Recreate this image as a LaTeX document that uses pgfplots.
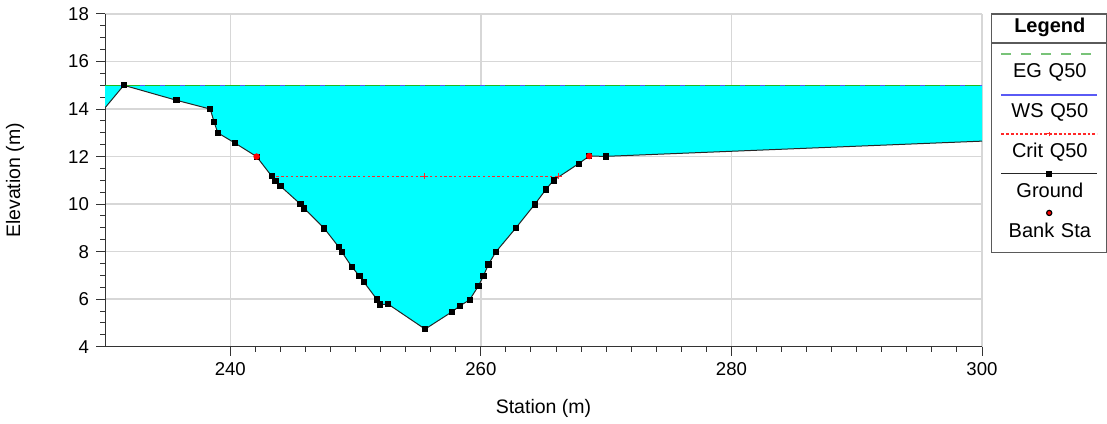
\documentclass[border=0pt]{standalone}
\usepackage{pgfplots}
\pgfplotsset{compat=1.18}
\usepackage{pgfplotstable}
\usepgfplotslibrary{fillbetween}
\usepackage{fontspec}
\setmainfont{Liberation Sans}

\definecolor{egcol}{RGB}{30,185,30}
\definecolor{eglegcol}{RGB}{120,195,120}
\definecolor{wscol}{RGB}{90,90,245}
\definecolor{gridcol}{RGB}{215,215,215}
\definecolor{watercol}{RGB}{0,255,255}
\definecolor{framecol}{RGB}{90,90,90}
\definecolor{critcol}{RGB}{255,40,40}

% Ground profile of the cross section: station (m), elevation (m)
\pgfplotstableread{
sta elev
230.0 14.05
231.5 15.00
235.7 14.37
238.4 14.00
238.7 13.47
239.0 13.00
240.4 12.56
242.1 12.00
243.3 11.18
243.6 10.97
244.0 10.76
245.6 10.00
245.9 9.82
247.5 8.98
248.65 8.20
248.9 7.99
249.7 7.36
250.3 6.98
250.65 6.73
251.7 5.99
251.95 5.78
252.6 5.79
255.55 4.74
257.7 5.47
258.3 5.71
259.1 5.97
259.8 6.55
260.2 6.97
260.6 7.46
261.2 7.99
262.8 9.00
264.3 9.99
265.2 10.62
265.8 11.00
267.8 11.70
268.65 12.02
270.0 12.01
300.0 12.65
}\groundtbl

% Water surface, Q50
\pgfplotstableread{
sta elev
230 15.0
300 15.0
}\wstbl

% Energy grade line, Q50
\pgfplotstableread{
sta elev
230 15.0
300 15.0
}\egtbl

% Critical depth water surface, Q50
\pgfplotstableread{
sta elev
243.3 11.18
255.5 11.18
266.2 11.18
}\crittbl

% Bank stations
\pgfplotstableread{
sta elev
242.1 12.00
268.65 12.02
}\banktbl

\begin{document}
\begin{tikzpicture}
\begin{axis}[
  set layers,
  scale only axis,
  width=438.5pt, height=166.35pt,
  xmin=230, xmax=300, ymin=4, ymax=18,
  xtick={240,260,280,300},
  ytick={4,6,...,18},
  minor x tick num=9,
  minor y tick num=3,
  axis x line*=bottom, axis y line*=left,
  axis line style={black!80, line width=0.5pt, -},
  tick align=outside,
  major tick length=4.5pt, minor tick length=2.5pt,
  tick style={black!80, line width=0.5pt},
  grid=major,
  major grid style={gridcol, line width=0.7pt},
  font=\fontsize{9.75}{11}\selectfont,
  ticklabel style={font=\fontsize{9.3}{11}\selectfont},
  /pgf/number format/assume math mode=true,
  xlabel={Station (m)}, ylabel={Elevation (m)},
  x label style={at={(axis description cs:0.5,-0.1843)}, anchor=center},
  y label style={at={(axis description cs:-0.1026,0.5)}, anchor=center},
  legend style={
    at={(axis description cs:1.0103,1.002)}, anchor=north west,
    draw=framecol, line width=0.6pt, fill=white,
    inner xsep=0pt, inner ysep=0pt,
    column sep=0pt, row sep=0pt,
    cells={anchor=base},
    nodes={inner sep=0pt, text width=57pt, align=center,
           text height=15pt, text depth=5pt, anchor=base,
           font=\fontsize{10}{12}\selectfont},
  },
]

% legend: title with a rule below it, then one sample above each name
\addlegendimage{legend image code/.code={
  \path (0pt,0pt);
  \draw[overlay, draw=framecol, line width=0.6pt] (0pt,-5.15pt) -- (57pt,-5.15pt);}}
\addlegendentry[text height=9.35pt, text depth=7.5pt]{\bfseries Legend}

\addlegendimage{legend image code/.code={
  \path (0pt,0pt);
  \draw[overlay, draw=eglegcol, line width=0.7pt, dash pattern=on 5pt off 5pt]
    (4.5pt,11.85pt) -- (52.5pt,11.85pt);}}
\addlegendentry{EG Q50}

\addlegendimage{legend image code/.code={
  \path (0pt,0pt);
  \draw[overlay, draw=wscol, line width=0.7pt] (4.5pt,11.35pt) -- (52.5pt,11.35pt);}}
\addlegendentry{WS Q50}

\addlegendimage{legend image code/.code={
  \path (0pt,0pt);
  \draw[overlay, draw=critcol, line width=0.6pt, dash pattern=on 1.4pt off 1pt]
    (4.5pt,11.85pt) -- (52.5pt,11.85pt);
  \draw[overlay, draw=critcol, line width=0.55pt]
    (27.3pt,11.85pt) -- (29.7pt,11.85pt) (28.5pt,10.65pt) -- (28.5pt,13.05pt);}}
\addlegendentry{Crit Q50}

\addlegendimage{legend image code/.code={
  \path (0pt,0pt);
  \draw[overlay, draw=black!85, line width=0.55pt] (4.5pt,11.85pt) -- (52.5pt,11.85pt);
  \fill[overlay, fill=black] (27.3pt,10.65pt) rectangle (29.7pt,13.05pt);}}
\addlegendentry{Ground}

\addlegendimage{legend image code/.code={
  \path (0pt,0pt);
  \fill[overlay, fill=red] (28.5pt,12.35pt) circle[radius=1.3pt];}}
\addlegendentry[text depth=7.35pt]{Bank Sta}

% channel geometry and computed profiles
\addplot[name path=ground, draw=black!85, line width=0.5pt, forget plot]
  table[x=sta, y=elev] {\groundtbl};
\addplot[name path=ws, draw=wscol, line width=0.6pt, forget plot]
  table[x=sta, y=elev] {\wstbl};
\addplot[fill=watercol, draw=none, forget plot] fill between[of=ws and ground];
\addplot[draw=egcol, line width=0.75pt, dash pattern=on 7.5pt off 2.5pt, forget plot]
  table[x=sta, y=elev] {\egtbl};
\addplot[draw=critcol, line width=0.5pt, dash pattern=on 1.2pt off 1.2pt,
         mark=+, mark size=1.5pt, mark options={solid, draw=critcol}, forget plot]
  table[x=sta, y=elev] {\crittbl};
\addplot[only marks, mark=square*, mark size=1.3pt,
         mark options={draw=black, fill=black},
         restrict x to domain=230.5:299.5, forget plot]
  table[x=sta, y=elev] {\groundtbl};
\addplot[only marks, mark=*, mark size=1.4pt,
         mark options={draw=red, fill=red}, forget plot]
  table[x=sta, y=elev] {\banktbl};
\end{axis}
% page extent around the axis box
\pgfresetboundingbox
\useasboundingbox (-52.5pt,-38.15pt) rectangle (501pt,173.35pt);
\end{tikzpicture}
\end{document}
